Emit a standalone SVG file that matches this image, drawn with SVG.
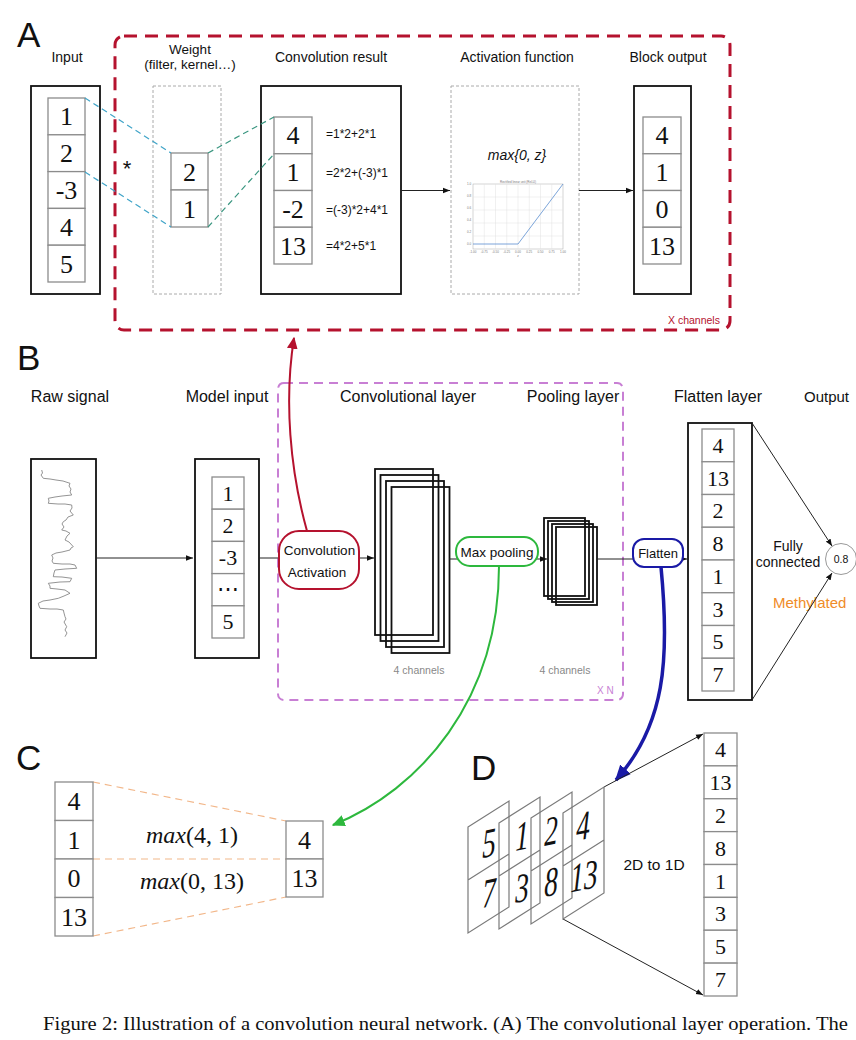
<svg xmlns="http://www.w3.org/2000/svg" width="856" height="1040" viewBox="0 0 856 1040">
<defs>
<style>
.s{font-family:'Liberation Sans',Arial,sans-serif;fill:#111}
.sf{font-family:'Liberation Serif','Times New Roman',serif;fill:#111}
.mid{text-anchor:middle}
.t14{font-size:14px}
.t16{font-size:16px}
.big{font-size:35px}
.cell{fill:#fff;stroke:#8c8c8c;stroke-width:1.3}
.box{fill:#fff;stroke:#111;stroke-width:1.8}
.dbox{fill:none;stroke:#aaa;stroke-width:1;stroke-dasharray:3 2}
.n26{font-size:26px;text-anchor:middle}
.n22{font-size:22px;text-anchor:middle}
.ln{fill:none;stroke:#222;stroke-width:1}
.stk{fill:none;stroke:#111;stroke-width:1.8}
.par{fill:none;stroke:#7a7a7a;stroke-width:1.2}
.dig{font-family:'Liberation Serif','Times New Roman',serif;font-style:italic;font-size:39px;text-anchor:middle;fill:#111}
.tiny{font-family:'Liberation Sans',Arial,sans-serif;font-size:3px;fill:#777}
.grid{stroke:#e0e0e0;stroke-width:0.5}
</style>
<marker id="ah" viewBox="0 0 10 10" refX="10" refY="5" markerWidth="7" markerHeight="7" markerUnits="userSpaceOnUse" orient="auto"><path d="M0,1 L10,5 L0,9 z" fill="#111"/></marker>
<marker id="ahr" viewBox="0 0 10 10" refX="9" refY="5" markerWidth="12" markerHeight="12" markerUnits="userSpaceOnUse" orient="auto"><path d="M0,0.5 L10,5 L0,9.5 z" fill="#b5122e"/></marker>
<marker id="ahg" viewBox="0 0 10 10" refX="9" refY="5" markerWidth="13" markerHeight="13" markerUnits="userSpaceOnUse" orient="auto"><path d="M0,0.5 L10,5 L0,9.5 z" fill="#2db83d"/></marker>
<marker id="ahb" viewBox="0 0 10 10" refX="9" refY="5" markerWidth="16" markerHeight="16" markerUnits="userSpaceOnUse" orient="auto"><path d="M0,0.5 L10,5 L0,9.5 z" fill="#1a1aa6"/></marker>
</defs>
<rect width="856" height="1040" fill="#fff"/>

<!-- ============ Panel A ============ -->
<g id="panelA">
<text class="s big" x="17" y="47">A</text>
<rect id="xchannels-frame" x="115" y="36" width="615" height="294" rx="9" fill="none" stroke="#b5122e" stroke-width="3" stroke-dasharray="13 8"/>
<text class="s" x="668" y="324" font-size="10.5" style="fill:#b5122e">X channels</text>
</g>

<g id="a-input">
<text class="s t14 mid" x="67" y="62">Input</text>
<rect class="box" x="31" y="86" width="69" height="208"/>
<rect class="cell" x="48" y="98" width="37" height="36.8"/>
<rect class="cell" x="48" y="134.8" width="37" height="36.8"/>
<rect class="cell" x="48" y="171.6" width="37" height="36.8"/>
<rect class="cell" x="48" y="208.4" width="37" height="36.8"/>
<rect class="cell" x="48" y="245.2" width="37" height="36.8"/>
<text class="sf n26" x="66.5" y="125.4">1</text>
<text class="sf n26" x="66.5" y="162.2">2</text>
<text class="sf n26" x="66.5" y="199">-3</text>
<text class="sf n26" x="66.5" y="235.8">4</text>
<text class="sf n26" x="66.5" y="272.6">5</text>
</g>

<g id="a-weight">
<text class="s mid" x="190" y="54" font-size="13.5">Weight</text>
<text class="s mid" x="190" y="69" font-size="13.5">(filter, kernel…)</text>
<rect class="dbox" x="153" y="86" width="68" height="208"/>
<rect class="cell" x="171" y="153" width="37" height="37"/>
<rect class="cell" x="171" y="190" width="37" height="37"/>
<text class="sf n26" x="189.5" y="180.5">2</text>
<text class="sf n26" x="189.5" y="217.5">1</text>
<text class="s mid" x="127" y="176" font-size="22">*</text>
</g>

<g id="a-conv">
<text class="s t14 mid" x="331" y="62">Convolution result</text>
<rect class="box" x="261" y="86" width="140" height="208"/>
<rect class="cell" x="274" y="117" width="38" height="36.75"/>
<rect class="cell" x="274" y="153.75" width="38" height="36.75"/>
<rect class="cell" x="274" y="190.5" width="38" height="36.75"/>
<rect class="cell" x="274" y="227.25" width="38" height="36.75"/>
<text class="sf n26" x="293" y="144.4">4</text>
<text class="sf n26" x="293" y="181.1">1</text>
<text class="sf n26" x="293" y="217.9">-2</text>
<text class="sf n26" x="293" y="254.6">13</text>
<text class="s" x="326" y="138" font-size="12">=1*2+2*1</text>
<text class="s" x="326" y="177" font-size="12">=2*2+(-3)*1</text>
<text class="s" x="326" y="214" font-size="12">=(-3)*2+4*1</text>
<text class="s" x="326" y="250" font-size="12">=4*2+5*1</text>
</g>

<g id="a-activation">
<text class="s t14 mid" x="517" y="62">Activation function</text>
<rect class="dbox" x="451" y="86" width="128" height="208"/>
<text class="s mid" x="517" y="160" font-size="14" font-style="italic">max{0, z}</text>
<g id="relu-plot">
<rect x="473" y="184" width="90" height="65" fill="#fff" stroke="#aaa" stroke-width="0.5"/>
<path class="grid" d="M484.25,184V249M495.5,184V249M506.75,184V249M518,184V249M529.25,184V249M540.5,184V249M551.75,184V249M473,197H563M473,210H563M473,223H563M473,236H563"/>
<polyline points="473,244 518,244 563,184" fill="none" stroke="#5b8ed0" stroke-width="0.8"/>
<text class="tiny mid" x="518" y="182.5">Rectified linear unit (ReLU)</text>
<text class="tiny mid" x="473" y="253">-1.00</text>
<text class="tiny mid" x="484.25" y="253">-0.75</text>
<text class="tiny mid" x="495.5" y="253">-0.50</text>
<text class="tiny mid" x="506.75" y="253">-0.25</text>
<text class="tiny mid" x="518" y="253">0.00</text>
<text class="tiny mid" x="529.25" y="253">0.25</text>
<text class="tiny mid" x="540.5" y="253">0.50</text>
<text class="tiny mid" x="551.75" y="253">0.75</text>
<text class="tiny mid" x="563" y="253">1.00</text>
<text class="tiny mid" x="518" y="257">z</text>
<text class="tiny" x="467" y="245">0.0</text>
<text class="tiny" x="467" y="233">0.2</text>
<text class="tiny" x="467" y="221">0.4</text>
<text class="tiny" x="467" y="209">0.6</text>
<text class="tiny" x="467" y="197">0.8</text>
<text class="tiny" x="467" y="185">1.0</text>
</g>
</g>

<g id="a-block-output">
<text class="s t14 mid" x="668" y="62">Block output</text>
<rect class="box" x="634" y="86" width="57" height="208"/>
<rect class="cell" x="643" y="117" width="38" height="36.75"/>
<rect class="cell" x="643" y="153.75" width="38" height="36.75"/>
<rect class="cell" x="643" y="190.5" width="38" height="36.75"/>
<rect class="cell" x="643" y="227.25" width="38" height="36.75"/>
<text class="sf n26" x="662" y="144.4">4</text>
<text class="sf n26" x="662" y="181.1">1</text>
<text class="sf n26" x="662" y="217.9">0</text>
<text class="sf n26" x="662" y="254.6">13</text>
</g>

<!-- ============ Panel B ============ -->
<g id="panelB">
<text class="s big" x="17" y="370">B</text>
<rect id="xn-frame" x="278" y="383" width="345" height="317" rx="6" fill="none" stroke="#c87fd4" stroke-width="2" stroke-dasharray="9 6"/>
<text class="s" x="597" y="694" font-size="10" style="fill:#c87fd4">X N</text>
<text class="s t16 mid" x="408" y="402">Convolutional layer</text>
<text class="s t16 mid" x="573" y="402">Pooling layer</text>
<text class="s" x="419" y="674" font-size="10.5" text-anchor="middle" style="fill:#888">4 channels</text>
<text class="s" x="565" y="674" font-size="10.5" text-anchor="middle" style="fill:#888">4 channels</text>
</g>

<g id="b-raw-signal">
<text class="s t16 mid" x="70" y="402">Raw signal</text>
<rect class="box" x="31" y="459" width="65" height="199"/>
<polyline fill="none" stroke="#888" stroke-width="0.9" points="41.7,470 42.5,473 41,475 43.3,478.3 50,479 56,480 63,481 70,483.3 69,486 71,489 70,492 71.7,495 62,496 55,497 48.3,498.3 49,501 48.3,503.3 58,504 65,504 71.7,505 72,508 70,511 73.3,515 68,517 66,520 63.3,521.7 62,524 64,527 61.7,530 66,531 70,533.3 67,536 65,540 69,542 73.3,546.7 71,548 70,550 62,552 56,553 51.7,555 53,558 52,561 53.3,563.3 62,564 70,564 75,565 76.7,568.3 65,569 55,570 54,573 53.3,576.7 62,577 71.7,578.3 70,581.7 60,582 48.3,583.3 50,586 50,588.3 57,589 65,590 70,593.3 64,596 58.3,598.3 50,600 43,601 38.3,603.3 39,606 40,608.3 50,609 57,609 63.3,610 64,613 65,616.7 66,619 64,622 66.7,626.7 65,630 67,633 65,636.7"/>
</g>

<g id="b-model-input">
<text class="s t16 mid" x="227" y="402">Model input</text>
<rect class="box" x="195" y="459" width="64" height="199"/>
<rect class="cell" x="212" y="477" width="32" height="32.2"/>
<rect class="cell" x="212" y="509.2" width="32" height="32.2"/>
<rect class="cell" x="212" y="541.4" width="32" height="32.2"/>
<rect class="cell" x="212" y="573.6" width="32" height="32.2"/>
<rect class="cell" x="212" y="605.8" width="32" height="32.2"/>
<text class="sf n22" x="228" y="500.6">1</text>
<text class="sf n22" x="228" y="532.8">2</text>
<text class="sf n22" x="228" y="565">-3</text>
<text class="sf n22" x="228" y="596">⋯</text>
<text class="sf n22" x="228" y="629.4">5</text>
</g>

<g id="b-conv-stack">
<rect class="stk" x="375" y="469" width="58" height="166"/>
<rect class="stk" x="380.5" y="475" width="58" height="166"/>
<rect class="stk" x="386" y="481" width="58" height="166"/>
<rect class="stk" x="391.5" y="487" width="58" height="166"/>
</g>

<g id="b-pool-stack">
<rect class="stk" x="544" y="518" width="41" height="78" stroke-width="1.5"/>
<rect class="stk" x="548" y="521" width="41" height="78" stroke-width="1.5"/>
<rect class="stk" x="552" y="524" width="41" height="78" stroke-width="1.5"/>
<rect class="stk" x="556" y="527" width="41" height="78" stroke-width="1.5"/>
</g>

<g id="b-flatten-layer">
<text class="s t16 mid" x="718" y="402">Flatten layer</text>
<rect class="box" x="688" y="423" width="64" height="277"/>
<rect class="cell" x="702" y="429" width="32" height="32.75"/>
<rect class="cell" x="702" y="461.75" width="32" height="32.75"/>
<rect class="cell" x="702" y="494.5" width="32" height="32.75"/>
<rect class="cell" x="702" y="527.25" width="32" height="32.75"/>
<rect class="cell" x="702" y="560" width="32" height="32.75"/>
<rect class="cell" x="702" y="592.75" width="32" height="32.75"/>
<rect class="cell" x="702" y="625.5" width="32" height="32.75"/>
<rect class="cell" x="702" y="658.25" width="32" height="32.75"/>
<text class="sf n22" x="718" y="452.9">4</text>
<text class="sf n22" x="718" y="485.65">13</text>
<text class="sf n22" x="718" y="518.4">2</text>
<text class="sf n22" x="718" y="551.15">8</text>
<text class="sf n22" x="718" y="583.9">1</text>
<text class="sf n22" x="718" y="616.65">3</text>
<text class="sf n22" x="718" y="649.4">5</text>
<text class="sf n22" x="718" y="682.15">7</text>
</g>

<g id="b-output">
<text class="s" x="804" y="402" font-size="15">Output</text>
<text class="s mid" x="788" y="551" font-size="14">Fully</text>
<text class="s mid" x="788" y="567" font-size="14">connected</text>
<text class="s" x="773" y="608" font-size="15" style="fill:#f08c28">Methylated</text>
<circle cx="841" cy="559" r="15.5" fill="#fff" stroke="#999" stroke-width="1"/>
<text class="s mid" x="841" y="563" font-size="10.5">0.8</text>
</g>

<!-- ============ Connectors ============ -->
<g id="connectors">
<path d="M85,98 L171,153" fill="none" stroke="#3fa4c8" stroke-width="1.2" stroke-dasharray="6 4"/>
<path d="M85,172 L171,227" fill="none" stroke="#3fa4c8" stroke-width="1.2" stroke-dasharray="6 4"/>
<path d="M208,153 L274,117" fill="none" stroke="#3a9680" stroke-width="1.2" stroke-dasharray="6 4"/>
<path d="M208,227 L274,154" fill="none" stroke="#3a9680" stroke-width="1.2" stroke-dasharray="6 4"/>
<path class="ln" d="M401,190.5 L450,190.5" marker-end="url(#ah)"/>
<path class="ln" d="M579,190.5 L633,190.5" marker-end="url(#ah)"/>

<path class="ln" d="M96,558 L193,558" marker-end="url(#ah)"/>
<path class="ln" d="M259,558 L374,558" marker-end="url(#ah)"/>
<path class="ln" d="M449,559 L547,559" marker-end="url(#ah)"/>
<path class="ln" d="M597,559 L687,559" marker-end="url(#ah)"/>
<path class="ln" d="M752,423 L832,546" stroke-width="0.8" marker-end="url(#ah)"/>
<path class="ln" d="M752,700 L832,573" stroke-width="0.8" marker-end="url(#ah)"/>

<path d="M307,531 C290,470 284,400 294,338" fill="none" stroke="#b5122e" stroke-width="2" marker-end="url(#ahr)"/>
<path d="M499,566 C499,700 420,790 333,825" fill="none" stroke="#2db83d" stroke-width="2" marker-end="url(#ahg)"/>
<path d="M661,567 C670,660 665,725 616,780" fill="none" stroke="#1a1aa6" stroke-width="3.5" marker-end="url(#ahb)"/>

<path d="M93,782 L286,821" fill="none" stroke="#f2b78a" stroke-width="1.2" stroke-dasharray="7 5"/>
<path d="M93,859 L286,859" fill="none" stroke="#f2b78a" stroke-width="1.2" stroke-dasharray="7 5"/>
<path d="M93,936 L286,897" fill="none" stroke="#f2b78a" stroke-width="1.2" stroke-dasharray="7 5"/>

<path class="ln" d="M604,787 L703,734" stroke-width="0.8" marker-end="url(#ah)"/>
<path class="ln" d="M563,919 L703,995" stroke-width="0.8" marker-end="url(#ah)"/>
</g>

<!-- pills on top of connectors -->
<g id="pill-conv">
<rect x="279" y="531" width="80" height="58" rx="20" fill="#fff" stroke="#b5122e" stroke-width="2"/>
<text class="s mid" x="319.5" y="555" font-size="13.5">Convolution</text>
<text class="s mid" x="317" y="577" font-size="13.5">Activation</text>
</g>
<g id="pill-maxpool">
<rect x="456" y="537" width="82" height="29" rx="14" fill="#fff" stroke="#2db83d" stroke-width="2"/>
<text class="s mid" x="497" y="557" font-size="13.5">Max pooling</text>
</g>
<g id="pill-flatten">
<rect x="633" y="539" width="50" height="28" rx="11" fill="#fff" stroke="#1a1aa6" stroke-width="2"/>
<text class="s mid" x="658" y="558" font-size="13">Flatten</text>
</g>

<!-- ============ Panel C ============ -->
<g id="panelC">
<text class="s big" x="16" y="770">C</text>
<rect class="cell" x="55" y="782" width="38" height="38.5"/>
<rect class="cell" x="55" y="820.5" width="38" height="38.5"/>
<rect class="cell" x="55" y="859" width="38" height="38.5"/>
<rect class="cell" x="55" y="897.5" width="38" height="38.5"/>
<text class="sf n26" x="74" y="810.25">4</text>
<text class="sf n26" x="74" y="848.75">1</text>
<text class="sf n26" x="74" y="887.25">0</text>
<text class="sf n26" x="74" y="925.75">13</text>
<rect class="cell" x="286" y="821" width="37" height="38"/>
<rect class="cell" x="286" y="859" width="37" height="38"/>
<text class="sf n26" x="304.5" y="849">4</text>
<text class="sf n26" x="304.5" y="887">13</text>
<text class="sf mid" x="192" y="843" font-size="24"><tspan font-style="italic">max</tspan>(4, 1)</text>
<text class="sf mid" x="192" y="889" font-size="24"><tspan font-style="italic">max</tspan>(0, 13)</text>
</g>

<!-- ============ Panel D ============ -->
<g id="panelD">
<text class="s big" x="471" y="780">D</text>
<path class="par" d="M468,827 L509,801 L509,907 L468,933 Z M468,880 L509,854"/>
<path class="par" d="M499,823 L540,797 L540,903 L499,929 Z M499,876 L540,850"/>
<path class="par" d="M531,818 L572,792 L572,898 L531,924 Z M531,871 L572,845"/>
<path class="par" d="M563,813 L604,787 L604,893 L563,919 Z M563,866 L604,840"/>
<text class="dig" transform="translate(489,843) skewY(-12) scale(0.7,1.05)" y="13">5</text>
<text class="dig" transform="translate(489,893) skewY(-12) scale(0.7,1.05)" y="13">7</text>
<text class="dig" transform="translate(522,836) skewY(-12) scale(0.7,1.05)" y="13">1</text>
<text class="dig" transform="translate(522,888) skewY(-12) scale(0.7,1.05)" y="13">3</text>
<text class="dig" transform="translate(551,831) skewY(-12) scale(0.7,1.05)" y="13">2</text>
<text class="dig" transform="translate(551,882) skewY(-12) scale(0.7,1.05)" y="13">8</text>
<text class="dig" transform="translate(583,826) skewY(-12) scale(0.7,1.05)" y="13">4</text>
<text class="dig" transform="translate(584,876) skewY(-12) scale(0.7,1.05)" y="13">13</text>
<text class="s mid" x="654" y="870" font-size="15.5">2D to 1D</text>
</g>

<g id="d-flat">
<rect class="cell" x="704" y="733" width="33" height="32.875"/>
<rect class="cell" x="704" y="765.875" width="33" height="32.875"/>
<rect class="cell" x="704" y="798.75" width="33" height="32.875"/>
<rect class="cell" x="704" y="831.625" width="33" height="32.875"/>
<rect class="cell" x="704" y="864.5" width="33" height="32.875"/>
<rect class="cell" x="704" y="897.375" width="33" height="32.875"/>
<rect class="cell" x="704" y="930.25" width="33" height="32.875"/>
<rect class="cell" x="704" y="963.125" width="33" height="32.875"/>
<text class="sf n22" x="720.5" y="757">4</text>
<text class="sf n22" x="720.5" y="789.9">13</text>
<text class="sf n22" x="720.5" y="822.75">2</text>
<text class="sf n22" x="720.5" y="855.6">8</text>
<text class="sf n22" x="720.5" y="888.5">1</text>
<text class="sf n22" x="720.5" y="921.4">3</text>
<text class="sf n22" x="720.5" y="954.25">5</text>
<text class="sf n22" x="720.5" y="987.1">7</text>
</g>

<g id="caption">
<text class="sf" x="43" y="1030" font-size="19" textLength="805" lengthAdjust="spacingAndGlyphs">Figure 2: Illustration of a convolution neural network. (A) The convolutional layer operation. The</text>
</g>
</svg>
